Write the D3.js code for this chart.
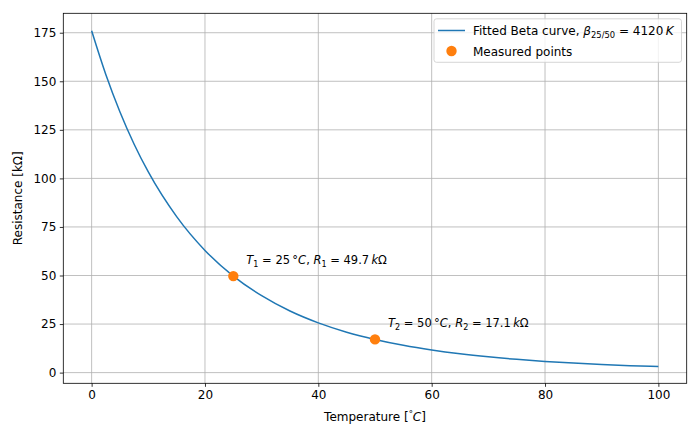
<!DOCTYPE html>
<html><head><meta charset="utf-8">
<script src="https://cdn.jsdelivr.net/npm/d3@7"></script>
<style>
body{margin:0;background:#fff;}
text{font-family:"DejaVu Sans",sans-serif;}
</style></head>
<body><svg id="c" width="700" height="438"></svg>
<script>
// Fitted Beta curve values (°C, kΩ)
const curveT = [0, 2.5, 5, 7.5, 10, 15, 20, 25, 30, 35, 40, 45, 50, 55, 60, 65, 70, 75, 80, 85, 90, 95, 100];
const curveR = [176.0, 153.5, 134.2, 117.6, 103.3, 80.3, 62.9, 49.7, 39.6, 31.7, 25.6, 20.8, 17.06, 14.05, 11.64, 9.69, 8.12, 6.83, 5.78, 4.91, 4.19, 3.59, 3.09];
// Measured points
const pointT = [25, 50];
const pointR = [49.7, 17.1];
const pointSub = ["1", "2"];
const xTicks = [0, 20, 40, 60, 80, 100];
const yTicks = [0, 25, 50, 75, 100, 125, 150, 175];

const svg = d3.select("#c");
const L = 63.3, R = 686.7, T = 13.3, B = 383.3;
const x = d3.scaleLinear().domain([-5, 105]).range([L, R]);
const y = d3.scaleLinear().domain([-5.5, 185]).range([B, T]);
const fs = 12;

// grid
const g = svg.append("g");
g.selectAll(".gx").data(xTicks).join("line")
  .attr("x1", d => x(d)).attr("x2", d => x(d)).attr("y1", T).attr("y2", B)
  .attr("stroke", "#b0b0b0").attr("stroke-width", 0.8);
g.selectAll(".gy").data(yTicks).join("line")
  .attr("y1", d => y(d)).attr("y2", d => y(d)).attr("x1", L).attr("x2", R)
  .attr("stroke", "#b0b0b0").attr("stroke-width", 0.8);

// axes
const xAxis = d3.axisBottom(x).tickValues(xTicks).tickSize(3.5).tickPadding(3.5).tickFormat(d3.format("d"));
const yAxis = d3.axisLeft(y).tickValues(yTicks).tickSize(3.5).tickPadding(3.5).tickFormat(d3.format("d"));
const ax = svg.append("g").attr("transform", `translate(0,${B})`).call(xAxis);
const ay = svg.append("g").attr("transform", `translate(${L},0)`).call(yAxis);
[ax, ay].forEach(a => {
  a.select(".domain").remove();
  a.selectAll("line").attr("stroke", "#000").attr("stroke-width", 0.8);
  a.selectAll("text").attr("font-size", fs).attr("fill", "#000").attr("font-family", "DejaVu Sans");
});

// curve
const data = curveT.map((t, i) => [t, curveR[i]]);
svg.append("path").datum(data)
  .attr("d", d3.line().x(d => x(d[0])).y(d => y(d[1])).curve(d3.curveMonotoneX))
  .attr("fill", "none").attr("stroke", "#1f77b4").attr("stroke-width", 1.5);

// points
svg.selectAll(".pt").data(pointT).join("circle")
  .attr("cx", d => x(d)).attr("cy", (d, i) => y(pointR[i])).attr("r", 5.2)
  .attr("fill", "#ff7f0e");

// annotations
function mathLabel(sel, items, size) {
  items.forEach(it => {
    const ts = sel.append("tspan").text(it.t);
    if (it.i) ts.attr("font-style", "italic");
    if (it.sub) ts.attr("font-size", size * 0.7).attr("dy", 3);
    if (it.up) ts.attr("dy", -3);
    if (it.sup) ts.attr("font-size", size * 0.7).attr("dy", -4);
    if (it.down) ts.attr("dy", 4);
  });
}
const afs = 11.5;
pointT.forEach((t, i) => {
  const tx = svg.append("text").attr("x", x(t) + 13).attr("y", y(pointR[i]) - 12.5)
    .attr("font-size", afs).attr("fill", "#000");
  mathLabel(tx, [
    {t: "T", i: true}, {t: pointSub[i], sub: true}, {t: " = " + t + "\u2009°", up: true},
    {t: "C", i: true}, {t: ", "}, {t: "R", i: true}, {t: pointSub[i], sub: true},
    {t: " = " + pointR[i] + "\u2009", up: true}, {t: "k", i: true}, {t: "Ω"}
  ], afs);
});

// spines
svg.append("rect").attr("x", L).attr("y", T).attr("width", R - L).attr("height", B - T)
  .attr("fill", "none").attr("stroke", "#000").attr("stroke-width", 0.8);

// axis labels
const xl = svg.append("text").attr("x", (L + R) / 2).attr("y", 421).attr("text-anchor", "middle")
  .attr("font-size", fs).attr("fill", "#000");
mathLabel(xl, [{t: "Temperature ["}, {t: "°", sup: true}, {t: "C", i: true, down: true}, {t: "]"}], fs);
svg.append("text").attr("transform", `translate(22,${(T + B) / 2}) rotate(-90)`)
  .attr("text-anchor", "middle").attr("font-size", fs).attr("fill", "#000")
  .text("Resistance [kΩ]");

// legend
const lg = svg.append("g");
lg.append("rect").attr("x", 434).attr("y", 18.8).attr("width", 247.5).attr("height", 43.5)
  .attr("rx", 2.5).attr("fill", "#fff").attr("fill-opacity", 0.8)
  .attr("stroke", "#cccccc").attr("stroke-width", 0.8);
lg.append("line").attr("x1", 438).attr("x2", 465).attr("y1", 30.5).attr("y2", 30.5)
  .attr("stroke", "#1f77b4").attr("stroke-width", 1.5);
const l1 = lg.append("text").attr("x", 473).attr("y", 35).attr("font-size", fs).attr("fill", "#000");
mathLabel(l1, [{t: "Fitted Beta curve, "}, {t: "β", i: true}, {t: "25/50", sub: true},
  {t: " = 4120\u2009", up: true}, {t: "K", i: true}], fs);
lg.append("circle").attr("cx", 451.5).attr("cy", 51).attr("r", 5.2).attr("fill", "#ff7f0e");
lg.append("text").attr("x", 473).attr("y", 55.5).attr("font-size", fs).attr("fill", "#000")
  .text("Measured points");
</script></body></html>
